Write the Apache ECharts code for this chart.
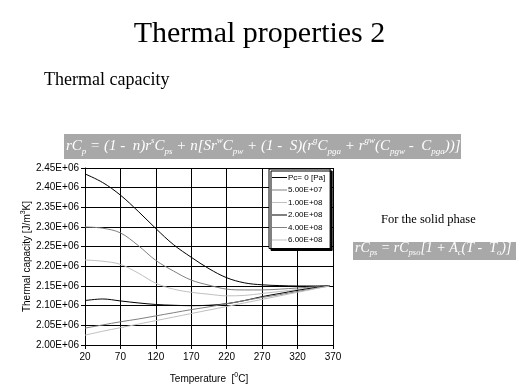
<!DOCTYPE html>
<html>
<head>
<meta charset="utf-8">
<script src="https://cdn.jsdelivr.net/npm/echarts@6/dist/echarts.min.js"></script>
<style>
html,body{margin:0;padding:0;background:#fff;}
#c{width:519px;height:389px;}
</style>
</head>
<body>
<div id="c"></div>
<script>
var temperatures = [20, 45, 70, 95, 120, 145, 170, 195, 220, 245, 270, 295, 320, 345, 365];
var seriesNames = ['Pc= 0 [Pa]', '5.00E+07', '1.00E+08', '2.00E+08', '4.00E+08', '6.00E+08'];
var pc0   = [2.435, 2.413, 2.381, 2.340, 2.296, 2.255, 2.223, 2.194, 2.171, 2.158, 2.153, 2.151, 2.150, 2.150, 2.151];
var pc5e7 = [2.300, 2.297, 2.285, 2.253, 2.215, 2.188, 2.165, 2.152, 2.142, 2.140, 2.140, 2.142, 2.145, 2.148, 2.151];
var pc1e8 = [2.216, 2.213, 2.205, 2.183, 2.157, 2.142, 2.134, 2.129, 2.125, 2.126, 2.131, 2.136, 2.141, 2.146, 2.151];
var pc2e8 = [2.113, 2.117, 2.112, 2.107, 2.103, 2.101, 2.100, 2.101, 2.105, 2.113, 2.123, 2.131, 2.139, 2.146, 2.151];
var pc4e8 = [2.043, 2.051, 2.059, 2.066, 2.074, 2.082, 2.090, 2.097, 2.105, 2.113, 2.121, 2.128, 2.136, 2.144, 2.150];
var pc6e8 = [2.025, 2.035, 2.044, 2.053, 2.062, 2.071, 2.080, 2.089, 2.098, 2.107, 2.116, 2.125, 2.134, 2.143, 2.150];
var yTicks = ['2.00E+06','2.05E+06','2.10E+06','2.15E+06','2.20E+06','2.25E+06','2.30E+06','2.35E+06','2.40E+06','2.45E+06'];
var xTicks = [20, 70, 120, 170, 220, 270, 320, 370];

var allSeries = [pc0, pc5e7, pc1e8, pc2e8, pc4e8, pc6e8];
var colors = ['#000000', '#808080', '#c0c0c0', '#000000', '#808080', '#c0c0c0'];

var chart = echarts.init(document.getElementById('c'), null, {renderer: 'canvas'});

var series = allSeries.map(function (vals, i) {
  return {
    name: seriesNames[i],
    type: 'line',
    smooth: 0.35,
    symbol: 'none',
    color: colors[i],
    lineStyle: {color: colors[i], width: 1},
    data: temperatures.map(function (t, k) { return [t, vals[k] * 1e6]; }),
    z: 3
  };
});

var serif = 'Liberation Serif';
var sans = 'Liberation Sans';

function formulaRich(big, small, lh, off) {
  return {
    i: {fontSize: big, fontStyle: 'italic', fontFamily: serif, color: '#fff', lineHeight: lh},
    s: {fontSize: small, fontStyle: 'italic', fontFamily: serif, color: '#fff', lineHeight: lh, verticalAlign: 'bottom', padding: [off, 0, 0, 0]},
    u: {fontSize: small, fontStyle: 'italic', fontFamily: serif, color: '#fff', lineHeight: lh, verticalAlign: 'top', padding: [0, 0, off, 0]}
  };
}

chart.setOption({
  animation: false,
  backgroundColor: '#ffffff',
  grid: {left: 85, right: 186, top: 168, bottom: 44, show: false},
  xAxis: {
    type: 'value', min: 20, max: 370, interval: 50,
    axisLine: {lineStyle: {color: '#000', width: 1}},
    axisTick: {show: true, inside: false, length: 4, lineStyle: {color: '#000'}},
    axisLabel: {color: '#000', fontFamily: sans, fontSize: 10, margin: 7,
      formatter: function (v) { return xTicks.indexOf(v) >= 0 ? String(v) : ''; }},
    splitLine: {show: true, lineStyle: {color: '#000', width: 1}},
    name: '{a|Temperature  [}{b|0}{a|C]}',
    nameLocation: 'middle', nameGap: 27,
    nameTextStyle: {rich: {
      a: {fontFamily: sans, fontSize: 10, color: '#000', lineHeight: 14},
      b: {fontFamily: sans, fontSize: 7, color: '#000', lineHeight: 14, verticalAlign: 'top', padding: [0, 0, 5, 0]}
    }}
  },
  yAxis: {
    type: 'value', min: 2.0e6, max: 2.45e6, interval: 0.05e6,
    axisLine: {show: true, lineStyle: {color: '#000', width: 1}},
    axisTick: {show: true, inside: false, length: 4, lineStyle: {color: '#000'}},
    axisLabel: {color: '#000', fontFamily: sans, fontSize: 10, margin: 6,
      formatter: function (v) { var idx = Math.round((v - 2.0e6) / 0.05e6); return yTicks[idx] || ''; }},
    splitLine: {show: true, lineStyle: {color: '#000', width: 1}},
    name: '{a|Thermal capacity [J/m}{b|3}{a|K]}',
    nameLocation: 'middle', nameGap: 50, nameRotate: 90,
    nameTextStyle: {rich: {
      a: {fontFamily: sans, fontSize: 10, color: '#000', lineHeight: 14},
      b: {fontFamily: sans, fontSize: 7, color: '#000', lineHeight: 14, verticalAlign: 'top', padding: [0, 0, 5, 0]}
    }}
  },
  legend: {
    orient: 'vertical',
    left: 269, top: 169,
    icon: 'rect',
    itemWidth: 15, itemHeight: 1, itemGap: 3.5,
    padding: [4, 5, 4, 3],
    backgroundColor: '#fff',
    borderColor: '#000', borderWidth: 1,
    shadowColor: '#000', shadowOffsetX: 2, shadowOffsetY: 2, shadowBlur: 0,
    textStyle: {fontFamily: sans, fontSize: 8, lineHeight: 9, color: '#000', padding: [0, 0, 0, -4]},
    data: seriesNames
  },
  graphic: [
    {type: 'text', left: 'center', top: 19,
      style: {text: 'Thermal properties 2', fontFamily: serif, fontSize: 30, fill: '#000'}},
    {type: 'text', left: 44, top: 71,
      style: {text: 'Thermal capacity', fontFamily: serif, fontSize: 18, fill: '#000'}},
    {type: 'rect', left: 64, top: 134, shape: {width: 397, height: 25}, style: {fill: '#a8a8a8'}},
    {type: 'text', left: 66, top: 136,
      style: {text: '{i|rC}{s|p}{i| = (1 -  n)r}{u|s}{i|C}{s|ps}{i| + n[Sr}{u|w}{i|C}{s|pw}{i| + (1 -  S)(r}{u|g}{i|C}{s|pga}{i| + r}{u|gw}{i|(C}{s|pgw}{i| -  C}{s|pga}{i|))]}',
        rich: formulaRich(15, 9, 20, 7), fill: '#fff'}},
    {type: 'text', left: 381, top: 213,
      style: {text: 'For the solid phase', fontFamily: serif, fontSize: 12.5, fill: '#000'}},
    {type: 'rect', left: 353, top: 242, shape: {width: 163, height: 18}, style: {fill: '#a8a8a8'}},
    {type: 'text', left: 355, top: 241,
      style: {text: '{i|rC}{s|ps}{i| = rC}{s|pso}{i|[1 + A}{s|c}{i|(T -  T}{s|o}{i|)]}',
        rich: formulaRich(14, 8.5, 19, 6), fill: '#fff'}}
  ],
  series: series
});
</script>
</body>
</html>
